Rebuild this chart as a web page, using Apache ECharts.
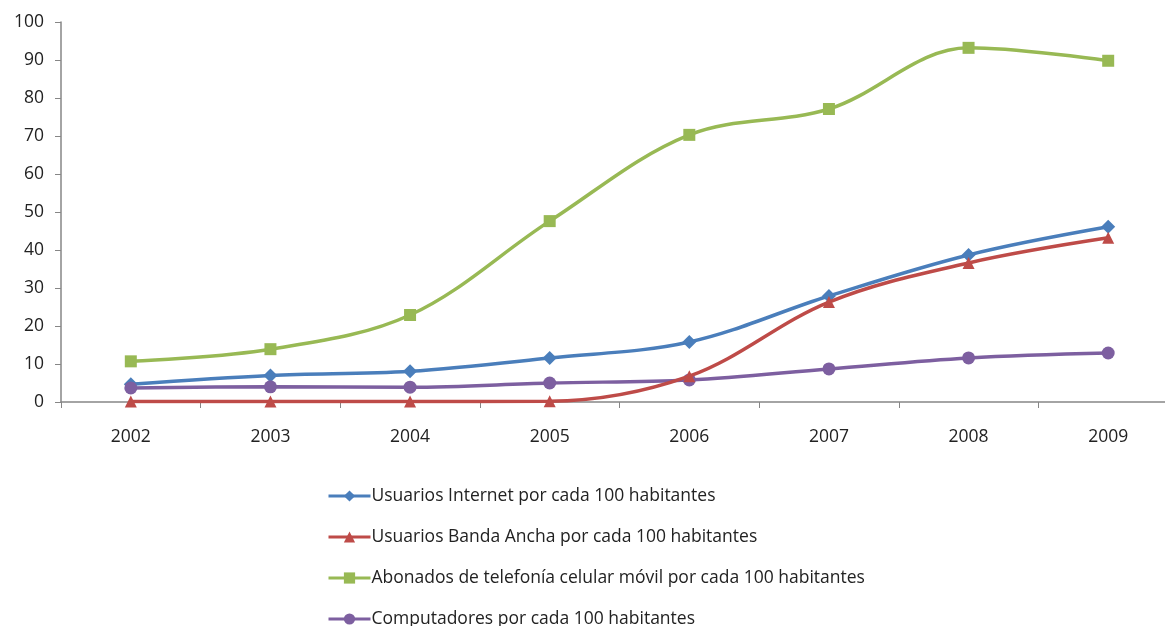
<!DOCTYPE html>
<html><head><meta charset="utf-8">
<script src="https://cdn.jsdelivr.net/npm/echarts@6/dist/echarts.min.js"></script>
<style>html,body{margin:0;padding:0;background:#fff}#c{width:1165px;height:626px}</style>
</head><body><div id="c"></div>
<script>
const years = ['2002','2003','2004','2005','2006','2007','2008','2009'];
const internet = [4.7, 7.0, 8.1, 11.6, 15.8, 27.9, 38.7, 46.1];
const banda = [0.1, 0.1, 0.1, 0.2, 6.8, 26.3, 36.6, 43.2];
const celular = [10.7, 13.9, 22.9, 47.6, 70.3, 77.1, 93.2, 89.8];
const computadores = [3.7, 4.0, 3.9, 5.0, 5.8, 8.7, 11.6, 12.9];
const names = [
  'Usuarios Internet por cada 100 habitantes',
  'Usuarios Banda Ancha por cada 100 habitantes',
  'Abonados de telefonía celular móvil por cada 100 habitantes',
  'Computadores por cada 100 habitantes'
];
const colors = ['#4a7ebb', '#be4b48', '#98b954', '#7d5fa0'];
const symbols = ['diamond', 'triangle', 'rect', 'circle'];
const sizes = [14, 12, 12, 13];
const datasets = [internet, banda, celular, computadores];

const chart = echarts.init(document.getElementById('c'));
const font = '"Open Sans", "Noto Sans", sans-serif';
chart.setOption({
  animation: false,
  color: colors,
  grid: {left: 61, top: 22, width: 1117, height: 380, containLabel: false, outerBoundsMode: 'none'},
  legend: names.map((n, i) => ({
    orient: 'vertical', left: 327, top: 487 + i * 41, padding: 0,
    itemWidth: 42, itemHeight: 14, data: [n],
    lineStyle: {width: 3},
    textStyle: {fontFamily: font, fontSize: 17.5, lineHeight: 16, color: '#222', padding: [0,0,0,-4]}
  })),
  xAxis: {
    type: 'category', data: years, boundaryGap: true,
    axisLine: {lineStyle: {color: '#868686', width: 1.5}},
    axisTick: {show: true, length: 6, lineStyle: {color: '#868686'}},
    axisLabel: {color: '#222', fontFamily: font, fontSize: 17.5, margin: 26}
  },
  yAxis: {
    type: 'value', min: 0, max: 100, interval: 10,
    axisLine: {show: true, lineStyle: {color: '#868686', width: 1.5}},
    axisTick: {show: true, length: 6, lineStyle: {color: '#868686'}},
    splitLine: {show: false},
    axisLabel: {color: '#222', fontFamily: font, fontSize: 17.5, margin: 17}
  },
  series: datasets.map((d, i) => ({
    name: names[i], type: 'line', data: d, smooth: 0.35,
    symbol: symbols[i], symbolSize: sizes[i],
    lineStyle: {width: 3.5, color: colors[i]},
    itemStyle: {color: colors[i]},
    z: i === 1 ? 3 : 2
  }))
});
</script></body></html>
